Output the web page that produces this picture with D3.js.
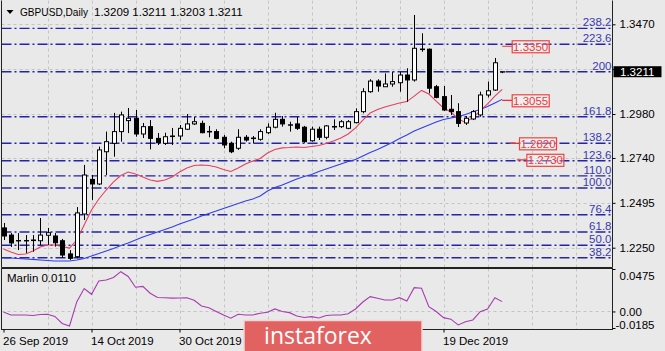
<!DOCTYPE html>
<html>
<head>
<meta charset="utf-8">
<script src="https://cdn.jsdelivr.net/npm/d3@7"></script>
<style>
  html, body { margin: 0; padding: 0; background: #e9e9e9; }
  svg { display: block; }
</style>
</head>
<body>
<div id="chart"></div>
<script>
// ---- data ----
var symbolTitle = "GBPUSD,Daily";
var titleQuote = "1.3209 1.3211 1.3203 1.3211";

var opens = [1.2358,1.2319,1.2289,1.2289,1.2289,1.2288,1.2318,1.2314,1.2288,1.2216,
  1.2201,1.2434,1.2623,1.2598,1.2774,1.2820,1.2884,1.2944,1.2957,1.2871,
  1.2911,1.2847,1.2820,1.2860,1.2860,1.2897,1.2926,1.2929,1.2885,1.2884,
  1.2853,1.2820,1.2793,1.2853,1.2849,1.2842,1.2878,1.2908,1.2951,1.2921,
  1.2926,1.2908,1.2834,1.2897,1.2853,1.2912,1.2911,1.2902,1.2933,1.2993,
  1.3102,1.3160,1.3129,1.3144,1.3151,1.3193,1.3166,1.3335,1.3334,1.3129,
  1.3075,1.3006,1.2993,1.2931,1.2953,1.2975,1.3084,1.3111,1.3209];
var highs = [1.2385,1.2330,1.2330,1.2319,1.2319,1.2412,1.2358,1.2330,1.2298,1.2237,
  1.2472,1.2702,1.2647,1.2802,1.2884,1.2986,1.2993,1.3013,1.3002,1.2931,
  1.2947,1.2876,1.2878,1.2904,1.2920,1.2980,1.2965,1.2944,1.2915,1.2897,
  1.2865,1.2829,1.2897,1.2865,1.2860,1.2897,1.2929,1.2987,1.2969,1.2938,
  1.2965,1.2915,1.2911,1.2911,1.2920,1.2951,1.2947,1.2947,1.3011,1.3121,
  1.3170,1.3170,1.3202,1.3211,1.3211,1.3230,1.3521,1.3421,1.3338,1.3139,
  1.3133,1.3084,1.3039,1.2969,1.3002,1.3102,1.3157,1.3286,1.3211];
var lows = [1.2292,1.2254,1.2237,1.2221,1.2228,1.2265,1.2265,1.2256,1.2194,1.2183,
  1.2192,1.2401,1.2511,1.2592,1.2647,1.2747,1.2829,1.2876,1.2856,1.2849,
  1.2787,1.2811,1.2811,1.2811,1.2838,1.2893,1.2920,1.2875,1.2853,1.2842,
  1.2793,1.2766,1.2784,1.2829,1.2820,1.2834,1.2871,1.2902,1.2911,1.2884,
  1.2893,1.2823,1.2829,1.2838,1.2842,1.2893,1.2904,1.2897,1.2929,1.2984,
  1.3096,1.3102,1.3129,1.3129,1.3102,1.3047,1.3157,1.3320,1.3093,1.3066,
  1.2997,1.2975,1.2909,1.2920,1.2947,1.2965,1.3071,1.3107,1.3203];
var closes = [1.2314,1.2276,1.2287,1.2287,1.2292,1.2319,1.2332,1.2277,1.2210,1.2192,
  1.2440,1.2647,1.2598,1.2784,1.2829,1.2884,1.2975,1.2957,1.2871,1.2911,
  1.2847,1.2823,1.2856,1.2857,1.2902,1.2926,1.2938,1.2878,1.2882,1.2847,
  1.2811,1.2774,1.2853,1.2838,1.2846,1.2884,1.2908,1.2951,1.2926,1.2919,
  1.2902,1.2829,1.2897,1.2853,1.2915,1.2909,1.2938,1.2938,1.2993,1.3102,
  1.3160,1.3133,1.3144,1.3157,1.3193,1.3166,1.3339,1.3332,1.3121,1.3071,
  1.3002,1.2993,1.2929,1.2957,1.2993,1.3084,1.3107,1.3260,1.3211];

// red (fast) and blue (slow) moving averages
var maFast = [1.2243,1.2227,1.2213,1.2216,1.2232,1.2254,1.2265,1.2265,1.2257,1.2248,
  1.2292,1.2374,1.2456,1.2516,1.2565,1.2610,1.2644,1.2663,1.2653,1.2636,
  1.2620,1.2612,1.2620,1.2636,1.2663,1.2685,1.2699,1.2702,1.2699,1.2691,
  1.2677,1.2666,1.2685,1.2707,1.2723,1.2737,1.2767,1.2786,1.2795,1.2797,
  1.2800,1.2797,1.2803,1.2808,1.2819,1.2833,1.2849,1.2871,1.2904,1.2947,
  1.2986,1.3005,1.3018,1.3029,1.3040,1.3048,1.3078,1.3109,1.3089,1.3051,
  1.3013,1.2991,1.2953,1.2934,1.2961,1.2997,1.3035,1.3078,1.3115];
var maSlow = [1.2194,1.2194,1.2191,1.2188,1.2186,1.2183,1.2180,1.2177,1.2177,1.2177,
  1.2183,1.2191,1.2205,1.2218,1.2232,1.2246,1.2262,1.2276,1.2292,1.2308,
  1.2322,1.2336,1.2349,1.2363,1.2379,1.2393,1.2407,1.2423,1.2437,1.2450,
  1.2464,1.2478,1.2491,1.2505,1.2516,1.2532,1.2560,1.2579,1.2592,1.2609,
  1.2625,1.2639,1.2650,1.2666,1.2680,1.2693,1.2707,1.2721,1.2732,1.2751,
  1.2770,1.2786,1.2805,1.2825,1.2846,1.2865,1.2887,1.2904,1.2920,1.2937,
  1.2950,1.2958,1.2966,1.2977,1.2993,1.3005,1.3021,1.3040,1.3060];

// Marlin oscillator (lower window)
var marlin = [-0.0006,-0.0039,-0.0039,-0.0039,-0.0045,-0.0034,-0.0031,-0.0056,-0.0134,-0.0162,
  0.0110,0.0257,0.0192,0.0341,0.0352,0.0380,0.0445,0.0391,0.0271,0.0280,
  0.0204,0.0157,0.0154,0.0149,0.0151,0.0154,0.0125,0.0062,0.0041,0.0000,
  -0.0039,-0.0076,-0.0031,-0.0039,-0.0039,-0.0020,-0.0008,0.0028,0.0000,-0.0013,
  -0.0050,-0.0067,-0.0058,-0.0073,-0.0045,-0.0039,-0.0039,-0.0026,0.0028,0.0106,
  0.0166,0.0148,0.0129,0.0129,0.0154,0.0117,0.0266,0.0260,0.0054,0.0000,
  -0.0069,-0.0086,-0.0151,-0.0114,-0.0095,-0.0002,0.0028,0.0154,0.0110];
var marlinLabel = "Marlin 0.0110";

// fibonacci levels
var fibLevels = ["238.2","223.6","200","161.8","138.2","123.6","110.0","100.0","76.4","61.8","50.0","38.2"];
var fibPrices = [1.3448,1.3361,1.3211,1.2965,1.2820,1.2725,1.2642,1.2576,1.2430,1.2336,1.2263,1.2195];

// red price marks (text label, bar it is pinned to)
var markLabels = ["1.3350","1.3055","1.2820","1.2730"];
var markPrices = [1.3350,1.3055,1.2820,1.2730];
var markBars = [68,68,69,70];

var lastPrice = 1.3211;
var priceTicks = [1.3470,1.3225,1.2980,1.2740,1.2495,1.2250];
var marlinTicks = [0.0475,0.00,-0.0185];
var marlinTickLabels = ["0.0475","0.00","-0.0185"];
// labels that sit under the watermark are not visible in the picture
var dateTickIdx = [0,12,24,60];
var dateTickLabels = ["26 Sep 2019","14 Oct 2019","30 Oct 2019","19 Dec 2019"];

// ---- layout ----
var W = 665, H = 351;
var FONT = "'Liberation Sans', Arial, sans-serif";
var left = 1.5, right = 612.5;
var mainTop = 0.5, mainBottom = 267.5;
var indTop = 268.5, indBottom = 329.5;

var svg = d3.select("#chart")
  .append("svg")
  .attr("width", W)
  .attr("height", H);

svg.append("rect").attr("width", W).attr("height", H).attr("fill", "#e9e9e9");

// scales
var x = d3.scaleLinear().domain([0, 68]).range([3.5, 502.2]);
var y = d3.scaleLinear().domain([1.2250, 1.3470]).range([247.7, 24.3]);
var ym = d3.scaleLinear().domain([-0.0185, 0.0475]).range([328, 269]);

svg.append("clipPath").attr("id", "clipMain")
  .append("rect").attr("x", left).attr("y", mainTop).attr("width", right - left).attr("height", mainBottom - mainTop);
svg.append("clipPath").attr("id", "clipInd")
  .append("rect").attr("x", left).attr("y", indTop).attr("width", right - left).attr("height", indBottom - indTop);

var main = svg.append("g").attr("clip-path", "url(#clipMain)");
var ind = svg.append("g").attr("clip-path", "url(#clipInd)");

// grid
var gridIdx = d3.range(6, 84, 6);
[main, ind].forEach(function(g, k) {
  g.selectAll("vgrid")
    .data(gridIdx)
    .enter()
    .append("line")
    .attr("x1", d => Math.round(x(d)) + 0.5)
    .attr("x2", d => Math.round(x(d)) + 0.5)
    .attr("y1", k == 0 ? mainTop : indTop)
    .attr("y2", k == 0 ? mainBottom : indBottom)
    .attr("stroke", "#c4c4c4")
    .attr("stroke-dasharray", "3,3");
});
main.selectAll("hgrid")
  .data(priceTicks)
  .enter()
  .append("line")
  .attr("x1", left).attr("x2", right)
  .attr("y1", d => Math.round(y(d)) + 0.5)
  .attr("y2", d => Math.round(y(d)) + 0.5)
  .attr("stroke", "#c4c4c4")
  .attr("stroke-dasharray", "3,3");
ind.append("line")
  .attr("x1", left).attr("x2", right)
  .attr("y1", Math.round(ym(0)) + 0.5).attr("y2", Math.round(ym(0)) + 0.5)
  .attr("stroke", "#c4c4c4")
  .attr("stroke-dasharray", "3,3");

// fibo lines
main.selectAll("fib")
  .data(fibPrices)
  .enter()
  .append("line")
  .attr("x1", left).attr("x2", right)
  .attr("y1", d => y(d)).attr("y2", d => y(d))
  .attr("stroke", "#2424a4")
  .attr("stroke-width", 1.4)
  .attr("stroke-dasharray", "10,3,2,3");

// moving averages
var lineGen = d3.line().x((d, i) => x(i)).y(d => y(d));
main.append("path")
  .attr("d", lineGen(maSlow))
  .attr("fill", "none")
  .attr("stroke", "#2f3cf0")
  .attr("stroke-width", 1.1);
main.append("path")
  .attr("d", lineGen(maFast))
  .attr("fill", "none")
  .attr("stroke", "#e4405f")
  .attr("stroke-width", 1.1);

// candles
var bars = d3.range(opens.length);
main.selectAll("wick")
  .data(bars)
  .enter()
  .append("line")
  .attr("x1", i => Math.round(x(i)) + 0.5)
  .attr("x2", i => Math.round(x(i)) + 0.5)
  .attr("y1", i => y(highs[i]))
  .attr("y2", i => y(lows[i]))
  .attr("stroke", "#000");
main.selectAll("body")
  .data(bars)
  .enter()
  .append("rect")
  .attr("x", i => Math.round(x(i)) - 1.5)
  .attr("y", i => y(Math.max(opens[i], closes[i])))
  .attr("width", 4)
  .attr("height", i => Math.max(0.01, Math.abs(y(opens[i]) - y(closes[i]))))
  .attr("fill", i => closes[i] >= opens[i] ? "#ffffff" : "#000000")
  .attr("stroke", "#000")
  .attr("stroke-width", 1);

// red price marks
var marks = d3.range(markLabels.length);
main.selectAll("markline")
  .data(marks)
  .enter()
  .append("line")
  .attr("x1", i => x(markBars[i]))
  .attr("x2", i => x(markBars[i]) + 10)
  .attr("y1", i => y(markPrices[i]))
  .attr("y2", i => y(markPrices[i]))
  .attr("stroke", "#f03030")
  .attr("stroke-width", 1.2);
main.selectAll("markbox")
  .data(marks)
  .enter()
  .append("rect")
  .attr("x", i => x(markBars[i]) + 10)
  .attr("y", i => y(markPrices[i]) - 5.5)
  .attr("width", 37)
  .attr("height", 12)
  .attr("fill", "#ffffff")
  .attr("fill-opacity", 0.35)
  .attr("stroke", "#f04040")
  .attr("stroke-width", 1.2);
main.selectAll("marktext")
  .data(marks)
  .enter()
  .append("text")
  .attr("x", i => x(markBars[i]) + 28.5)
  .attr("y", i => y(markPrices[i]) + 4.5)
  .attr("text-anchor", "middle")
  .attr("font-family", FONT)
  .attr("font-size", "11.5px")
  .attr("fill", "#f03838")
  .text(i => markLabels[i]);

// fibo labels
main.selectAll("fibtext")
  .data(fibLevels)
  .enter()
  .append("text")
  .attr("x", right - 1)
  .attr("y", (d, i) => y(fibPrices[i]) - 2)
  .attr("text-anchor", "end")
  .attr("font-family", FONT)
  .attr("font-size", "11.5px")
  .attr("fill", "#3a3ab0")
  .text(d => d);

// marlin line
ind.append("path")
  .attr("d", d3.line().x((d, i) => x(i)).y(d => ym(d))(marlin))
  .attr("fill", "none")
  .attr("stroke", "#a63cb0")
  .attr("stroke-width", 1.1);

// borders
svg.append("path")
  .attr("d", "M" + left + "," + mainTop + "V" + mainBottom + "H" + right + "V" + mainTop)
  .attr("fill", "none").attr("stroke", "#222");
svg.append("rect")
  .attr("x", left).attr("y", indTop)
  .attr("width", right - left).attr("height", indBottom - indTop)
  .attr("fill", "none").attr("stroke", "#222");

// price axis (label under the last price box is not drawn, as in the terminal)
var yAxis = svg.append("g")
  .attr("transform", "translate(" + right + ",0)")
  .call(d3.axisRight(y).tickValues(priceTicks).tickSize(3).tickPadding(4).tickFormat(d3.format(".4f")));
yAxis.select(".domain").remove();
yAxis.attr("font-family", FONT).attr("font-size", 11.5);
yAxis.selectAll("text").attr("fill", "#000");
yAxis.selectAll(".tick")
  .filter(d => Math.abs(y(d) - y(lastPrice)) < 10)
  .select("text").remove();

// current price box
svg.append("rect")
  .attr("x", right + 1)
  .attr("y", y(lastPrice) - 5.5)
  .attr("width", 48).attr("height", 11)
  .attr("fill", "#000");
svg.append("text")
  .attr("x", right + 7.5)
  .attr("y", y(lastPrice) + 4)
  .attr("font-family", FONT).attr("font-size", "11.5px")
  .attr("fill", "#fff")
  .text(d3.format(".4f")(lastPrice));

// marlin axis
var mAxis = svg.append("g")
  .attr("transform", "translate(" + right + ",0)")
  .call(d3.axisRight(ym).tickValues(marlinTicks).tickSize(3).tickPadding(4)
    .tickFormat((d, i) => marlinTickLabels[i]));
mAxis.select(".domain").remove();
mAxis.attr("font-family", FONT).attr("font-size", 11.5);
mAxis.selectAll("text").attr("fill", "#000")
  .attr("dy", (d, i) => i == 0 ? "0.9em" : (i == 2 ? "0.05em" : "0.32em"))
  .attr("dx", (d, i) => i == 2 ? "-4px" : "0");

// date axis
var xAxis = svg.append("g")
  .attr("transform", "translate(0," + indBottom + ")")
  .call(d3.axisBottom(x).tickValues(dateTickIdx).tickSize(3).tickPadding(4)
    .tickFormat((d, i) => dateTickLabels[i]));
xAxis.select(".domain").remove();
xAxis.attr("font-family", FONT).attr("font-size", 11.5);
xAxis.selectAll("text").attr("fill", "#000").style("text-anchor", "start").attr("x", -1);

// titles
svg.append("path")
  .attr("d", "M6.5,10 L13.5,10 L10,14 Z")
  .attr("fill", "#000");
var title = svg.append("text")
  .attr("y", 16)
  .attr("font-family", FONT).attr("font-size", "11.5px")
  .attr("fill", "#000");
title.append("tspan").attr("x", 20)
  .attr("textLength", 68).attr("lengthAdjust", "spacingAndGlyphs")
  .text(symbolTitle);
title.append("tspan").attr("x", 94).text(titleQuote);

svg.append("text")
  .attr("x", 7).attr("y", 282)
  .attr("font-family", FONT).attr("font-size", "11.5px")
  .attr("fill", "#000")
  .text(marlinLabel);

// watermark banner
svg.append("rect")
  .attr("x", 244).attr("y", 320.5)
  .attr("width", 178).attr("height", 34)
  .attr("fill", "#e26262")
  .attr("stroke", "#f4d4d4")
  .attr("stroke-width", 1.5);
svg.append("text")
  .attr("x", 318).attr("y", 344)
  .attr("text-anchor", "middle")
  .attr("font-family", "'Open Sans', sans-serif")
  .attr("font-size", "23px")
  .attr("fill", "#fff")
  .text("instaforex");
</script>
</body>
</html>
